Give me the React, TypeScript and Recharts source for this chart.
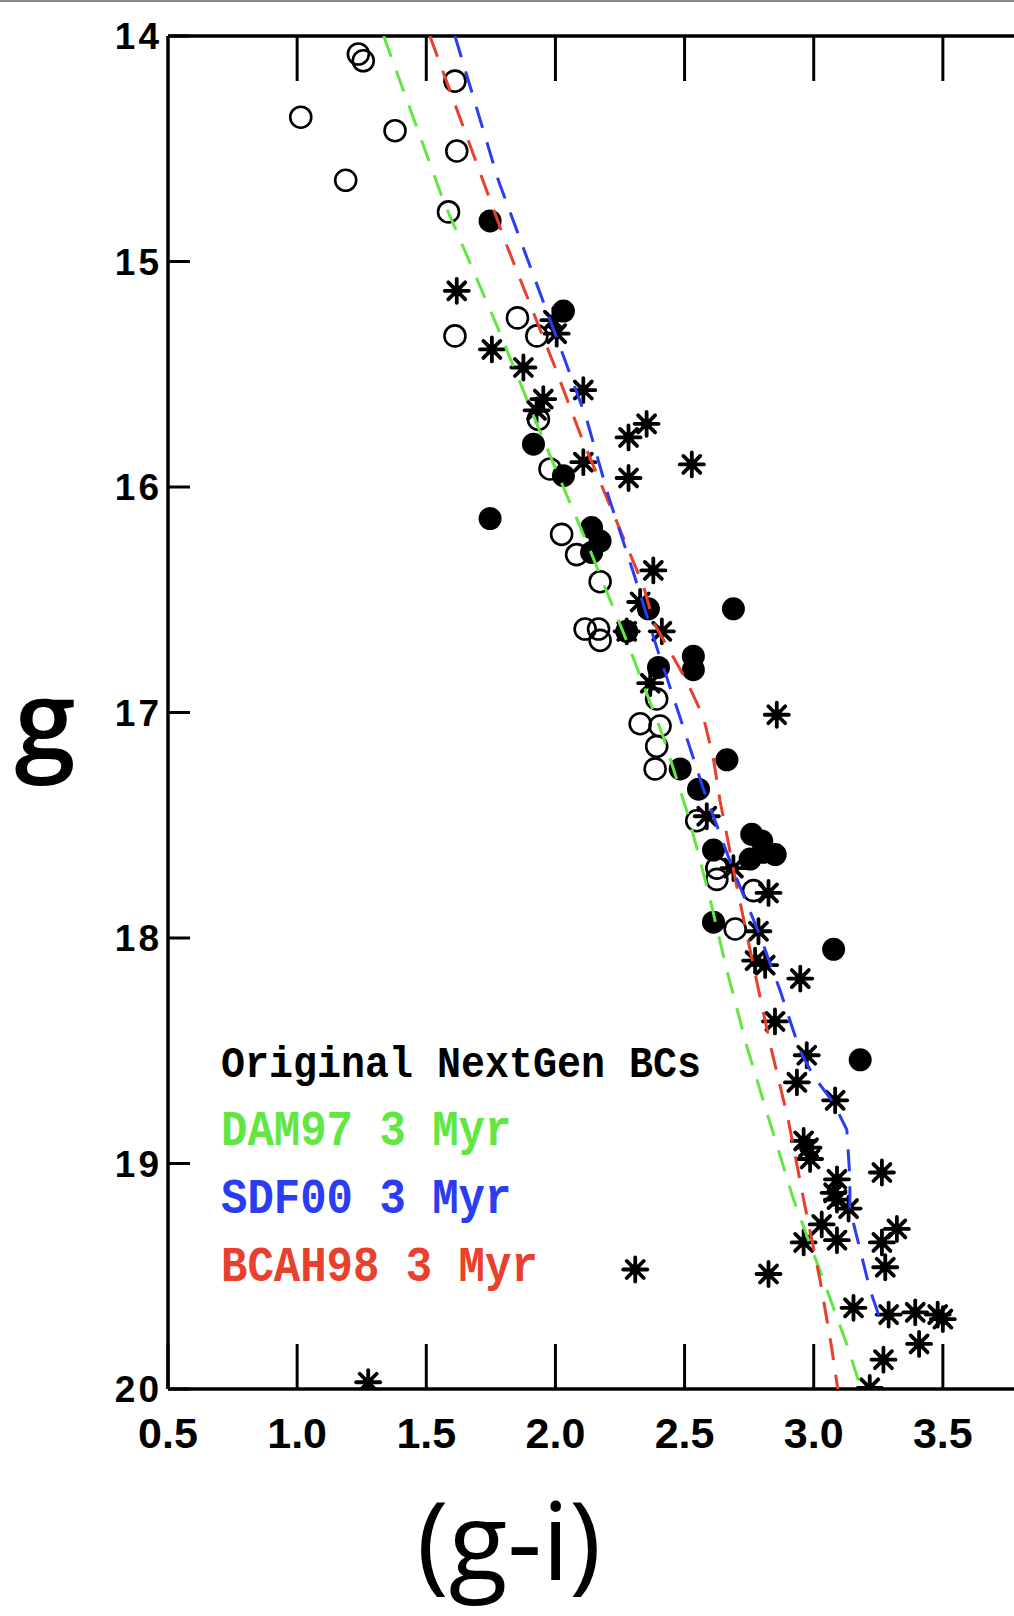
import React from 'react';
import { ScatterChart, Scatter, XAxis, YAxis } from 'recharts';

// ---------- data ----------
const xTicks = [0.5, 1.0, 1.5, 2.0, 2.5, 3.0, 3.5];
const xTopTicks = [1.0, 1.5, 2.0, 2.5, 3.0, 3.5];
const yTicks = [14, 15, 16, 17, 18, 19, 20];

// [g-i, g]
const openCircles: [number, number][] = [
  [1.237, 14.08], [1.256, 14.11], [1.014, 14.36], [1.379, 14.42], [1.188, 14.64],
  [1.611, 14.2], [1.618, 14.51], [1.586, 14.78], [1.611, 15.33], [1.853, 15.25],
  [1.928, 15.33], [1.934, 15.7], [1.979, 15.92], [2.024, 16.21], [2.082, 16.3],
  [2.173, 16.42], [2.115, 16.63], [2.167, 16.63], [2.173, 16.68], [2.392, 16.94],
  [2.328, 17.05], [2.405, 17.06], [2.392, 17.15], [2.386, 17.25], [2.547, 17.48],
  [2.625, 17.69], [2.625, 17.74], [2.767, 17.79], [2.696, 17.96],
];

const filledCircles: [number, number][] = [
  [1.747, 14.82], [2.031, 15.22], [1.915, 15.81], [2.031, 15.95], [1.747, 16.14],
  [2.14, 16.18], [2.173, 16.24], [2.14, 16.29], [2.36, 16.54], [2.689, 16.54],
  [2.276, 16.64], [2.534, 16.75], [2.534, 16.81], [2.399, 16.8], [2.483, 17.25],
  [2.664, 17.21], [2.554, 17.34], [2.612, 17.61], [2.76, 17.54], [2.799, 17.57],
  [2.754, 17.65], [2.805, 17.62], [2.851, 17.63], [2.612, 17.93], [3.077, 18.05],
  [3.18, 18.54],
];

const asterisks: [number, number][] = [
  [1.618, 15.13], [1.754, 15.39], [1.992, 15.26], [2.005, 15.32], [1.876, 15.47],
  [2.108, 15.57], [1.953, 15.61], [1.927, 15.66], [2.353, 15.72], [2.283, 15.78],
  [2.528, 15.9], [2.283, 15.96], [2.108, 15.89], [2.379, 16.37], [2.328, 16.51],
  [2.412, 16.64], [2.276, 16.64], [2.367, 16.87], [2.857, 17.01], [2.586, 17.46],
  [2.689, 17.69], [2.825, 17.8], [2.786, 17.97], [2.773, 18.1], [2.812, 18.12],
  [2.948, 18.18], [2.85, 18.37], [2.973, 18.52], [2.935, 18.64], [3.083, 18.72],
  [2.961, 18.9], [2.98, 18.93], [2.986, 18.98], [3.264, 19.04], [3.09, 19.07],
  [3.077, 19.13], [3.09, 19.16], [3.135, 19.2], [3.322, 19.29], [3.031, 19.27],
  [3.09, 19.34], [2.961, 19.35], [3.264, 19.35], [3.277, 19.46], [2.309, 19.47],
  [2.825, 19.49], [3.154, 19.64], [3.29, 19.67], [3.393, 19.66], [3.48, 19.67],
  [3.5, 19.69], [3.408, 19.8], [3.27, 19.87], [3.217, 19.995], [1.275, 19.97],
];

// isochrones: [g-i, g]
const dam97: [number, number][] = [
  [1.335, 14.0], [1.566, 14.73], [1.779, 15.3], [1.953, 15.79], [2.134, 16.28],
  [2.289, 16.72], [2.418, 17.11], [2.515, 17.46], [2.593, 17.8], [2.663, 18.14],
  [2.741, 18.48], [2.831, 18.82], [2.922, 19.16], [3.032, 19.5], [3.134, 19.82],
  [3.183, 20.0],
];
const sdf00: [number, number][] = [
  [1.611, 14.0], [1.779, 14.64], [1.908, 15.04], [2.012, 15.36], [2.121, 15.7],
  [2.205, 16.04], [2.302, 16.38], [2.392, 16.71], [2.482, 17.02], [2.573, 17.34],
  [2.689, 17.7], [2.792, 17.99], [2.869, 18.23], [2.947, 18.5], [2.998, 18.61],
  [3.076, 18.73], [3.128, 18.85], [3.14, 19.06], [3.14, 19.2], [3.179, 19.38],
  [3.218, 19.56], [3.257, 19.69],
];
const bcah98: [number, number][] = [
  [1.514, 14.0], [1.812, 14.93], [1.992, 15.45], [2.101, 15.78], [2.225, 16.12],
  [2.341, 16.44], [2.38, 16.6], [2.508, 16.86], [2.573, 17.02], [2.611, 17.2],
  [2.637, 17.39], [2.663, 17.54], [2.702, 17.77], [2.753, 18.05], [2.792, 18.26],
  [2.831, 18.47], [2.902, 18.81], [2.961, 19.16], [3.025, 19.52], [3.07, 19.82],
  [3.093, 20.0],
];

const legendLabels = ['Original NextGen BCs', 'DAM97 3 Myr', 'SDF00 3 Myr', 'BCAH98 3 Myr'];
const legendColors = ['#000000', '#62e642', '#2b3df2', '#e8402c'];
const legendSizes = [40, 44, 44, 44];
const isoColors = { dam97: '#62e642', sdf00: '#2b3df2', bcah98: '#e8402c' };

const toPts = (a: [number, number][]) => a.map(([gi, g]) => ({ gi, g }));

// ---------- shapes ----------
const OpenCircle = (p: any) => (
  <circle cx={p.cx} cy={p.cy} r={10.5} fill="none" stroke="#000" strokeWidth={2.6} />
);
const FilledCircle = (p: any) => <circle cx={p.cx} cy={p.cy} r={11.5} fill="#000" />;
const Asterisk = (p: any) => {
  const r = 12;
  const d = r * Math.SQRT1_2;
  return (
    <g stroke="#000" strokeWidth={3.8} strokeLinecap="round">
      <line x1={p.cx - r} y1={p.cy} x2={p.cx + r} y2={p.cy} />
      <line x1={p.cx} y1={p.cy - r} x2={p.cx} y2={p.cy + r} />
      <line x1={p.cx - d} y1={p.cy - d} x2={p.cx + d} y2={p.cy + d} />
      <line x1={p.cx - d} y1={p.cy + d} x2={p.cx + d} y2={p.cy - d} />
      <circle cx={p.cx} cy={p.cy} r={5.5} fill="#000" stroke="none" />
    </g>
  );
};
const NoShape = () => <g />;

// ---------- ticks ----------
const BottomTick = (p: any) => (
  <g>
    <line x1={p.x} y1={p.y} x2={p.x} y2={p.y - 45} stroke="#000" strokeWidth={3} />
    <text
      x={p.x}
      y={p.y + 59}
      textAnchor="middle"
      fontFamily="'Liberation Sans', Arial, sans-serif"
      fontWeight="bold"
      fontSize={43}
      fill="#000"
    >
      {Number(p.payload.value).toFixed(1)}
    </text>
  </g>
);
const TopTick = (p: any) => (
  <line x1={p.x} y1={p.y} x2={p.x} y2={p.y + 45} stroke="#000" strokeWidth={3} />
);
const LeftTick = (p: any) => (
  <g>
    <line x1={p.x} y1={p.y} x2={p.x + 22} y2={p.y} stroke="#000" strokeWidth={3} />
    <text
      x={p.x - 6}
      y={p.y + 13}
      textAnchor="end"
      fontFamily="'Liberation Sans', Arial, sans-serif"
      fontWeight="bold"
      fontSize={37}
      letterSpacing={3}
      fill="#000"
    >
      {p.payload.value}
    </text>
  </g>
);

const dash = '22 15';

export default function App() {
  return (
    <div
      style={{
        position: 'absolute',
        left: 0,
        top: 0,
        width: 1014,
        height: 1616,
        overflow: 'hidden',
        background: '#fff',
      }}
    >
      <div style={{ position: 'absolute', left: 0, top: 0, width: 1014, height: 2, background: '#8a8a8a' }} />
      <ScatterChart width={1072} height={1616} margin={{ top: 6, right: 0, bottom: 147, left: 0 }}>
        <XAxis
          xAxisId="b"
          type="number"
          dataKey="gi"
          domain={[0.5, 4.0]}
          ticks={xTicks}
          interval={0}
          height={80}
          tickSize={0}
          tickMargin={0}
          axisLine={{ stroke: '#000', strokeWidth: 3.5 }}
          tick={<BottomTick />}
          allowDataOverflow
        />
        <XAxis
          xAxisId="t"
          orientation="top"
          type="number"
          dataKey="gi"
          domain={[0.5, 4.0]}
          ticks={xTopTicks}
          interval={0}
          height={30}
          tickSize={0}
          tickMargin={0}
          axisLine={{ stroke: '#000', strokeWidth: 3.5 }}
          tick={<TopTick />}
          allowDataOverflow
        />
        <YAxis
          type="number"
          dataKey="g"
          domain={[14, 20]}
          reversed
          ticks={yTicks}
          interval={0}
          width={168}
          tickSize={0}
          tickMargin={0}
          axisLine={{ stroke: '#000', strokeWidth: 3.5 }}
          tick={<LeftTick />}
          allowDataOverflow
        />
        <Scatter xAxisId="b" data={toPts(openCircles)} shape={<OpenCircle />} isAnimationActive={false} />
        <Scatter xAxisId="b" data={toPts(filledCircles)} shape={<FilledCircle />} isAnimationActive={false} />
        <Scatter xAxisId="b" data={toPts(asterisks)} shape={<Asterisk />} isAnimationActive={false} />
        <Scatter
          xAxisId="b"
          data={toPts(dam97)}
          line={{ stroke: isoColors.dam97, strokeWidth: 3, strokeDasharray: dash }}
          lineType="joint"
          shape={<NoShape />}
          isAnimationActive={false}
        />
        <Scatter
          xAxisId="t"
          data={toPts(bcah98)}
          line={{ stroke: isoColors.bcah98, strokeWidth: 3, strokeDasharray: dash }}
          lineType="joint"
          shape={<NoShape />}
          isAnimationActive={false}
        />
        <Scatter
          xAxisId="b"
          data={toPts(sdf00)}
          line={{ stroke: isoColors.sdf00, strokeWidth: 3, strokeDasharray: dash }}
          lineType="joint"
          shape={<NoShape />}
          isAnimationActive={false}
        />
      </ScatterChart>
      <svg
        width={1014}
        height={1616}
        style={{ position: 'absolute', left: 0, top: 0, pointerEvents: 'none' }}
      >
        {legendLabels.map((t, i) => (
          <text
            key={t}
            transform={`translate(221, ${1077 + i * 68}) scale(1, 1.12)`}
            fontFamily="'Liberation Mono', 'DejaVu Sans Mono', monospace"
            fontWeight="bold"
            fontSize={legendSizes[i]}
            fill={legendColors[i]}
            style={{ whiteSpace: 'pre' }}
          >
            {t}
          </text>
        ))}
        <text
          x={45}
          y={759}
          textAnchor="middle"
          fontFamily="'Open Sans', sans-serif"
          fontWeight={600}
          fontSize={110}
          fill="#000"
        >
          g
        </text>
        <text
          x={509}
          y={1580}
          textAnchor="middle"
          fontFamily="'Open Sans', sans-serif"
          fontWeight={500}
          fontSize={108}
          fill="#000"
        >
          (g-i)
        </text>
      </svg>
    </div>
  );
}
